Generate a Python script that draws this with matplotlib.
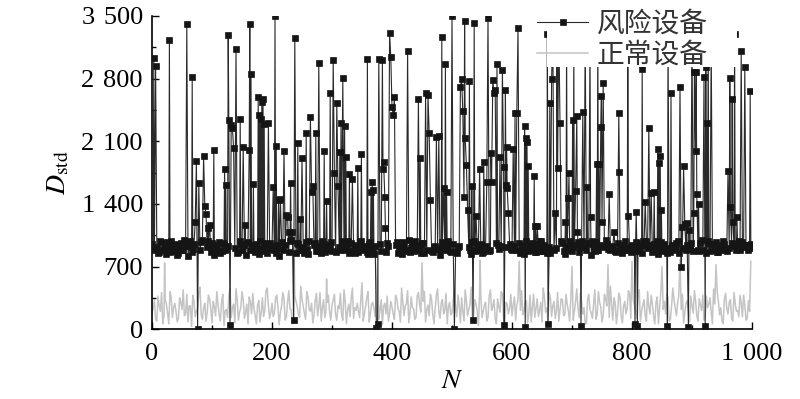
import matplotlib
matplotlib.use('Agg')
import matplotlib.pyplot as plt
from matplotlib.patches import Rectangle
from matplotlib.ticker import MultipleLocator, FuncFormatter

plt.rcParams['font.family'] = ['Liberation Serif', 'Noto Sans CJK SC']
plt.rcParams['mathtext.fontset'] = 'stix'

# base grid step for the noisy background values
step = 4

# risk devices: background band (N = 0, 4, 8, ...)
risk_base = [
    950, 880, 920, 860, 970, 900, 840, 930, 990, 870, 910, 850, 960, 890, 930, 820, 980, 900, 860, 940, 880, 1000, 850, 920, 890,
    960, 830, 910, 970, 870, 940, 900, 850, 990, 880, 920, 860, 950, 900, 830, 970, 890, 940, 860, 910, 980, 870, 930, 850, 960,
    900, 880, 940, 820, 970, 890, 930, 860, 1000, 900, 850, 950, 880, 920, 970, 840, 910, 890, 960, 870, 930, 990, 860, 900, 940,
    870, 950, 830, 920, 980, 880, 910, 850, 960, 900, 940, 860, 990, 880, 920, 840, 970, 900, 930, 870, 950, 820, 910, 960, 890,
    930, 860, 970, 900, 840, 950, 880, 1000, 910, 870, 940, 890, 850, 960, 920, 880, 990, 860, 930, 900, 830, 970, 890, 940, 870,
    910, 980, 850, 930, 890, 960, 870, 920, 840, 990, 900, 880, 950, 860, 930, 970, 890, 910, 850, 940, 880, 1000, 920, 860, 950,
    890, 930, 870, 960, 900, 840, 980, 910, 880, 950, 860, 920, 990, 870, 900, 940, 850, 970, 890, 930, 880, 960, 840, 910, 980,
    870, 940, 900, 860, 990, 920, 880, 950, 830, 910, 970, 890, 940, 860, 1000, 900, 880, 930, 870, 960, 910, 850, 980, 890, 920,
    940, 880, 960, 900, 850, 930, 990, 870, 910, 950, 880, 840, 970, 920, 890, 960, 860, 930, 900, 980, 870, 910, 850, 940, 900,
    960, 890, 930, 870, 1000, 910, 850, 950, 900, 880, 970, 860, 920, 990, 880, 940, 900, 860, 950, 920, 880, 970, 900, 940, 910,
]
# risk devices: background band (N = 2, 6, 10, ...)
risk_base_mid = [
    900, 960, 850, 990, 880, 920, 970, 860, 910, 950, 830, 940, 890, 1000, 870, 930, 860, 950, 910, 880, 970, 840, 920, 980, 860,
    910, 940, 870, 850, 960, 890, 930, 980, 870, 910, 850, 990, 880, 940, 960, 860, 920, 890, 950, 840, 900, 960, 880, 910, 930,
    970, 850, 910, 960, 880, 940, 850, 990, 870, 930, 960, 890, 920, 850, 900, 980, 860, 940, 870, 910, 850, 950, 920, 880, 970,
    910, 860, 960, 890, 850, 940, 980, 870, 910, 850, 880, 970, 910, 930, 860, 950, 880, 840, 960, 910, 870, 990, 860, 930, 950,
    880, 940, 850, 920, 970, 870, 930, 860, 950, 990, 880, 920, 960, 850, 890, 940, 870, 920, 880, 960, 910, 870, 940, 990, 860,
    950, 870, 920, 980, 860, 910, 940, 880, 970, 870, 930, 960, 850, 910, 980, 870, 940, 860, 960, 900, 930, 850, 880, 950, 900,
    960, 880, 920, 850, 940, 990, 870, 930, 960, 860, 910, 980, 870, 940, 850, 920, 960, 880, 910, 860, 990, 870, 930, 950, 880,
    920, 860, 970, 930, 880, 850, 960, 910, 990, 870, 880, 940, 860, 920, 950, 870, 900, 980, 860, 910, 870, 940, 890, 950, 860,
    900, 970, 870, 930, 980, 880, 910, 940, 860, 890, 990, 920, 870, 950, 850, 910, 940, 880, 960, 850, 930, 970, 880, 910, 960,
    870, 940, 880, 960, 890, 930, 980, 870, 950, 920, 860, 940, 890, 950, 870, 910, 960, 930, 880, 980, 850, 920, 940, 880, 950,
]

# risk devices: individual spikes / dips (N, D_std)
risk_spike_n = [
    3, 6, 29, 58, 67, 72, 74, 76, 78, 86, 88, 90, 93, 96, 103, 121, 123, 127, 128, 130,
    132, 134, 136, 140, 147, 152, 155, 162, 163, 165, 169, 177, 179, 181, 183, 185, 187, 194, 202, 205,
    207, 211, 214, 220, 224, 226, 229, 231, 234, 236, 238, 243, 247, 250, 257, 264, 266, 268, 273, 278,
    287, 291, 297, 302, 304, 308, 310, 313, 315, 318, 321, 323, 329, 334, 343, 349, 359, 365, 367, 369,
    374, 376, 378, 384, 385, 386, 388, 389, 396, 398, 400, 402, 404, 426, 444, 447, 456, 460, 462, 464,
    474, 478, 483, 486, 489, 491, 500, 504, 514, 516, 518, 520, 521, 522, 524, 526, 529, 533, 535, 537,
    540, 546, 553, 558, 560, 565, 566, 568, 570, 572, 575, 580, 584, 586, 587, 589, 590, 591, 592, 594,
    602, 605, 608, 610, 621, 622, 623, 625, 627, 637, 639, 642, 659, 660, 663, 666, 668, 672, 675, 676,
    678, 680, 689, 691, 694, 695, 701, 703, 706, 708, 709, 715, 718, 722, 725, 730, 731, 741, 743, 745,
    748, 749, 750, 752, 762, 770, 778, 779, 793, 794, 805, 807, 809, 817, 822, 828, 832, 837, 843, 845,
    847, 849, 859, 860, 865, 880, 882, 883, 886, 888, 891, 894, 895, 900, 903, 904, 906, 907, 908, 911,
    920, 922, 923, 925, 927, 932, 960, 963, 964, 967, 968, 971, 975, 982, 988, 997,
]
risk_spike_v = [
    3030, 2940, 3230, 3405, 2820, 1196, 1878, 0, 1632, 1938, 1378, 1286, 1129, 1163, 2001, 1789, 1610, 3287, 2337, 45,
    2281, 2250, 2023, 3127, 2351, 2038, 1163, 2000, 3410, 2851, 1621, 2594, 2393, 2348, 2541, 2568, 2292, 2303, 1588, 3496,
    2046, 1440, 1450, 1990, 1275, 1256, 1088, 1636, 1084, 100, 3257, 2083, 1230, 1908, 2188, 2374, 1532, 1599, 2188, 2977,
    1987, 1431, 2635, 3007, 1741, 2523, 1599, 1982, 2307, 2806, 2273, 1926, 1733, 1677, 1803, 1953, 3019, 1535, 1640, 1554,
    10, 60, 3019, 3007, 1789, 1870, 1472, 1133, 3306, 3037, 2485, 2393, 2590, 3108, 2571, 1908, 2635, 2616, 2188, 1442,
    2150, 2158, 3261, 1573, 2959, 1535, 3496, 0, 2710, 2792, 2437, 1479, 3443, 2132, 1834, 1330, 2773, 1602, 100, 3425,
    1263, 1792, 1864, 1647, 3481, 1971, 1647, 2780, 2642, 2672, 2963, 1923, 2899, 1808, 50, 2672, 1610, 2038, 1573, 1293,
    2012, 2419, 2419, 3362, 2270, 20, 2132, 2094, 1822, 1714, 1155, 1155, 3300, 60, 2530, 2792, 3350, 1300, 3200, 1796,
    3400, 2300, 1193, 3250, 1461, 1741, 2337, 3150, 1543, 2378, 1088, 30, 2430, 3300, 1588, 3200, 1249, 1845, 3350, 1845,
    2262, 2608, 1200, 2754, 1509, 1088, 2412, 1755, 3300, 1263, 60, 1308, 40, 2910, 1423, 2250, 1517, 1535, 2009, 1852,
    1934, 1330, 40, 3250, 2635, 2710, 697, 1137, 1822, 1174, 1181, 20, 1107, 3300, 1293, 2877, 1994, 2877, 1509, 1397,
    2814, 40, 2934, 2307, 3350, 3200, 1770, 2810, 1367, 2568, 1200, 3300, 1256, 3108, 2934, 2661,
]

# normal devices: background values (N = 0, 4, 8, ...)
normal_base = [
    180, 320, 90, 260, 410, 150, 280, 60, 350, 240, 200, 120, 300, 440, 170, 80, 260, 380, 140, 230, 470, 110, 290, 190, 340,
    70, 250, 420, 160, 310, 40, 220, 360, 130, 280, 450, 100, 240, 330, 190, 60, 300, 400, 150, 270, 80, 350, 210, 460, 120,
    290, 180, 380, 50, 260, 340, 140, 430, 220, 90, 310, 170, 480, 250, 110, 360, 200, 70, 320, 150, 410, 240, 130, 300, 190,
    270, 390, 100, 230, 160, 440, 60, 280, 350, 120, 210, 200, 330, 90, 260, 420, 170, 300, 140, 380, 210, 50, 290, 370, 180,
    250, 110, 340, 200, 460, 150, 280, 70, 360, 230, 130, 410, 190, 310, 80, 270, 390, 160, 240, 450, 120, 330, 210, 60, 300,
    180, 420, 140, 260, 350, 90, 310, 220, 470, 160, 280, 40, 370, 200, 300, 130, 440, 250, 110, 340, 190, 400, 60, 280, 230,
    150, 360, 270, 100, 430, 210, 320, 170, 80, 390, 240, 140, 300, 460, 190, 70, 350, 260, 120, 410, 220, 330, 160, 280, 90,
    370, 200, 450, 130, 300, 240, 60, 390, 180, 280, 110, 420, 250, 150, 340, 210, 480, 100, 290, 190, 360, 70, 310, 230, 400,
    160, 270, 120, 440, 200, 330, 90, 250, 380, 140, 300, 60, 410, 220, 170, 350, 110, 460, 240, 290, 130, 390, 180, 320, 80,
    260, 430, 150, 340, 210, 100, 370, 280, 190, 450, 120, 310, 240, 60, 400, 170, 330, 90, 290, 210, 380, 140, 270, 120, 200,
]
# normal devices: background values (N = 2, 6, 10, ...)
normal_base_mid = [
    240, 110, 370, 200, 60, 330, 180, 420, 130, 290, 80, 350, 220, 150, 390, 260, 30, 310, 200, 400, 160, 240, 90, 380, 230,
    310, 150, 280, 90, 390, 210, 130, 460, 240, 70, 330, 190, 420, 120, 280, 360, 170, 230, 60, 320, 190, 140, 430, 260, 180,
    140, 350, 240, 190, 410, 100, 300, 230, 60, 370, 250, 130, 340, 180, 420, 220, 290, 150, 400, 250, 90, 330, 210, 380, 100,
    330, 160, 260, 400, 100, 310, 210, 140, 460, 240, 290, 130, 400, 170, 350, 80, 280, 230, 420, 110, 330, 260, 170, 90, 310,
    170, 380, 230, 80, 310, 260, 430, 180, 240, 110, 370, 280, 90, 420, 220, 150, 330, 60, 380, 200, 290, 170, 400, 250, 160,
    320, 240, 380, 70, 200, 440, 150, 280, 110, 330, 200, 410, 130, 270, 90, 370, 210, 330, 60, 250, 420, 120, 300, 170, 390,
    270, 100, 330, 210, 160, 300, 70, 380, 250, 130, 340, 210, 80, 360, 240, 410, 140, 310, 200, 90, 340, 150, 390, 200, 330,
    100, 310, 230, 400, 170, 60, 330, 220, 120, 440, 160, 300, 80, 390, 260, 130, 280, 350, 60, 400, 140, 260, 170, 430, 120,
    330, 200, 380, 90, 270, 150, 420, 170, 280, 60, 360, 230, 130, 310, 400, 90, 260, 330, 150, 380, 220, 70, 290, 200, 370,
    180, 320, 90, 270, 380, 130, 240, 350, 60, 280, 420, 160, 90, 340, 230, 300, 120, 410, 200, 140, 290, 380, 100, 320, 250,
]
normal_spike_n = [21, 237, 291, 350, 376, 450, 547, 612, 700, 760, 800, 850, 880, 940, 998]
normal_spike_v = [740, 780, 560, 520, 800, 740, 770, 760, 700, 720, 760, 700, 780, 720, 760]


def merge(base, base_mid, spike_n, spike_v):
    pts = {i * step: v for i, v in enumerate(base)}
    for i, v in enumerate(base_mid):
        pts[i * step + step // 2] = v
    for n, v in zip(spike_n, spike_v):
        pts[n] = v
    keys = sorted(pts)
    return keys, [pts[k] for k in keys]


rx, ry = merge(risk_base, risk_base_mid, risk_spike_n, risk_spike_v)
nx, ny = merge(normal_base, normal_base_mid, normal_spike_n, normal_spike_v)

fig = plt.figure(figsize=(8, 3.99), dpi=100)
ax = fig.add_axes([0.19, 0.175, 0.75, 0.785])

ax.plot(nx, ny, color='#c4c4c4', lw=1.1, label='正常设备', zorder=2)
ax.plot(rx, ry, color='#2a2a2a', lw=0.8, marker='s', ms=4.8, mfc='#151515', mec='#151515',
        mew=0.5, label='风险设备', zorder=3)

ax.set_xlim(0, 1000)
ax.set_ylim(0, 3500)
ax.spines['top'].set_visible(False)
ax.spines['right'].set_visible(False)
ax.spines['left'].set_linewidth(1.2)
ax.spines['bottom'].set_linewidth(1.2)

ax.xaxis.set_major_locator(MultipleLocator(200))
ax.xaxis.set_minor_locator(MultipleLocator(100))
ax.yaxis.set_major_locator(MultipleLocator(700))
ax.yaxis.set_minor_locator(MultipleLocator(350))
fmt = FuncFormatter(lambda v, p: '{:,}'.format(int(v)).replace(',', '\u2004'))
ax.xaxis.set_major_formatter(fmt)
ax.yaxis.set_major_formatter(fmt)
ax.tick_params(which='both', direction='in', labelsize=19, width=1)
ax.tick_params(which='major', length=5)
ax.tick_params(which='minor', length=3)
ax.tick_params(axis='x', pad=10)
ax.tick_params(axis='y', pad=6.5)

ax.set_xlabel('$N$', fontsize=20, labelpad=3)
ax.set_ylabel(r'$D_{\mathrm{std}}$', fontsize=20, labelpad=7)

# white area behind the legend, hiding the tops of the spikes
ax.add_patch(Rectangle((547 / 800, 1 - 67 / 399), 190 / 800, 0.2, transform=fig.transFigure,
                       facecolor='white', edgecolor='none', zorder=4, clip_on=False))

h, l = ax.get_legend_handles_labels()
leg = ax.legend(h[::-1], l[::-1], loc='upper left', bbox_to_anchor=(537 / 800, 1 - 12 / 399),
                bbox_transform=fig.transFigure, fontsize=20, frameon=False,
                handlelength=1.85, handletextpad=0.3, borderpad=0, labelspacing=0.18,
                borderaxespad=0)
leg.set_zorder(5)
for h_ in leg.legend_handles:
    h_.set_markersize(4.3)
for t in leg.get_texts():
    t.set_color('#333333')

fig.savefig('out.png', dpi=100)
